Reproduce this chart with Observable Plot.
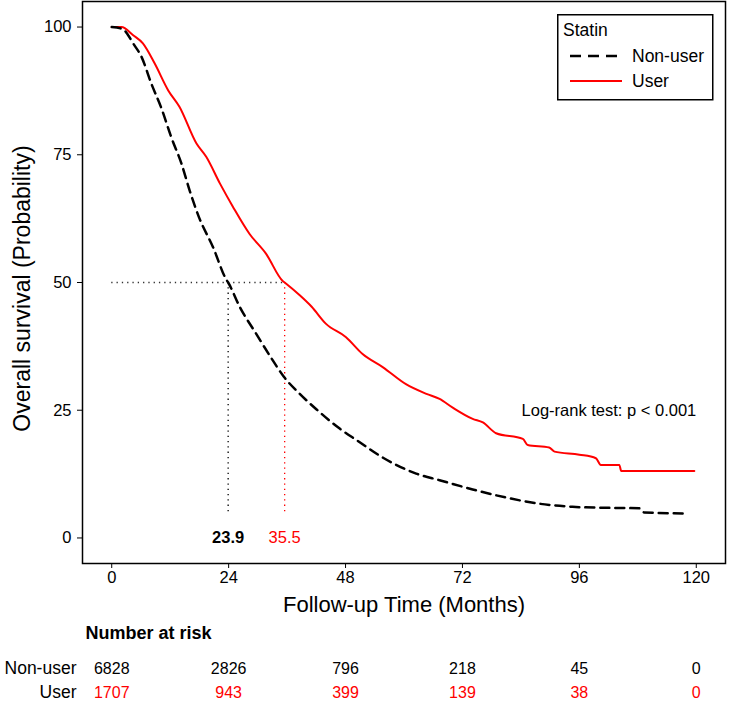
<!DOCTYPE html>
<html>
<head>
<meta charset="utf-8">
<script src="https://cdn.jsdelivr.net/npm/d3@7"></script>
<script src="https://cdn.jsdelivr.net/npm/@observablehq/plot@0.6"></script>
<style>
  html, body { margin: 0; padding: 0; background: #fff; }
  #wrap { position: relative; width: 734px; height: 701px; font-family: "Liberation Sans", Arial, sans-serif; }
  #legend { position: absolute; left: 557px; top: 14px; }
</style>
</head>
<body>
<div id="wrap"></div>
<script>
// ---- Data ----
const groups = ["Non-user", "User"];

const nonUserTime = [0, 2.3, 3.3, 4.4, 6.1, 8.1, 10.2, 12.2, 14.3, 16, 17.9, 20.8, 23.5, 23.9, 26.3, 29.7, 33.1, 35.3, 38.6, 42, 46.8, 50.5, 55.7, 62.5, 67.3, 74.1, 81, 87.8, 94.6, 101.5, 108.3, 109.3, 117.2];
const nonUserSurv = [100, 99.6, 98.5, 96.8, 94.2, 89, 84.1, 78.5, 73.3, 68, 62.8, 56.9, 50.6, 50, 45.2, 39.9, 34.7, 31.6, 28.2, 25.2, 21.4, 19, 15.7, 12.6, 11.3, 9.5, 7.9, 6.7, 6.1, 5.9, 5.8, 5.0, 4.8];

const userTime = [0, 2, 4.4, 6.4, 8.8, 11.6, 13.9, 17.4, 19.4, 22.2, 24.9, 28.3, 31.7, 35.1, 35.5, 38.6, 41, 44, 48.1, 51.5, 55.7, 60.4, 64.6, 67.3, 70, 74.1, 76.2, 78.9, 84.4, 85.4, 89.8, 90.9, 96, 99.4, 100.4, 104.2, 104.6, 119.6];
const userSurv = [100, 100, 98.4, 96.8, 92.9, 87.6, 84.4, 77.2, 74.6, 69.4, 64.8, 59.5, 55.6, 50.3, 50, 47.5, 45.3, 41.9, 39.3, 36, 33.4, 30.1, 28.2, 27.2, 25.5, 23.3, 22.6, 20.5, 19.4, 18.2, 17.7, 16.9, 16.3, 15.6, 14.3, 14.3, 13.1, 13.1];

const medianTimes = [23.9, 35.5];          // Non-user, User
const medianLabels = ["23.9", "35.5"];

const xTicks = [0, 24, 48, 72, 96, 120];
const yTicks = [0, 25, 50, 75, 100];

const riskTimes = [0, 24, 48, 72, 96, 120];
const nonUserRisk = [6828, 2826, 796, 218, 45, 0];
const userRisk = [1707, 943, 399, 139, 38, 0];

const xTitle = "Follow-up Time (Months)";
const yTitle = "Overall survival (Probability)";
const pText = "Log-rank test: p < 0.001";
const legendTitle = "Statin";
const riskTitle = "Number at risk";

// ---- Tables built from arrays ----
const nonUser = nonUserTime.map((t, i) => ({t, s: nonUserSurv[i], group: groups[0]}));
const user = userTime.map((t, i) => ({t, s: userSurv[i], group: groups[1]}));
const medians = medianTimes.map((t, i) => ({t, label: medianLabels[i], group: groups[i]}));
const risk = [
  ...riskTimes.map((t, i) => ({t, n: nonUserRisk[i], group: groups[0]})),
  ...riskTimes.map((t, i) => ({t, n: userRisk[i], group: groups[1]}))
];

const FONT = "'Liberation Sans', Arial, sans-serif";
const colorScale = {domain: groups, range: ["black", "red"]};
const xDomain = [-6, 126];

const main = Plot.plot({
  width: 734,
  height: 620,
  marginLeft: 82,
  marginRight: 9,
  marginTop: 1,
  marginBottom: 57,
  style: {fontFamily: FONT, fontSize: "16.5px", color: "black", background: "white"},
  x: {domain: xDomain, ticks: xTicks, tickSize: 5, tickPadding: 3, label: null},
  y: {domain: [-5, 105], ticks: yTicks, tickSize: 5, tickPadding: 6, label: null},
  color: colorScale,
  marks: [
    Plot.ruleY([50], {x1: 0, x2: medianTimes[1], stroke: "#333", strokeWidth: 1.3, strokeDasharray: "1.3,4"}),
    Plot.ruleX(medians, {x: "t", y1: 50, y2: 5, stroke: "group", strokeWidth: 1.3, strokeDasharray: "1.3,4"}),
    Plot.line(user, {x: "t", y: "s", stroke: "group", strokeWidth: 2, curve: "monotone-x"}),
    Plot.line(nonUser, {x: "t", y: "s", stroke: "group", strokeWidth: 2.5, strokeDasharray: "9,6", curve: "monotone-x"}),
    Plot.text(medians.filter(d => d.group === groups[0]), {x: "t", y: 0, text: "label", fill: "group", fontSize: 16.5, fontWeight: "bold"}),
    Plot.text(medians.filter(d => d.group === groups[1]), {x: "t", y: 0, text: "label", fill: "group", fontSize: 16.5}),
    Plot.text([pText], {x: 120, y: 25, text: d => d, textAnchor: "end", fontSize: 16.5, fill: "black"}),
    Plot.text([xTitle], {frameAnchor: "bottom", dy: 41, text: d => d, fontSize: 22, fill: "black", lineAnchor: "middle", textAnchor: "middle"}),
    Plot.text([yTitle], {frameAnchor: "left", dx: -60, dy: 6, rotate: -90, text: d => d, fontSize: 23, fill: "black", textAnchor: "middle", lineAnchor: "middle"}),
    Plot.frame({stroke: "black", strokeWidth: 1.5})
  ]
});

const table = Plot.plot({
  width: 734,
  height: 81,
  marginLeft: 82,
  marginRight: 9,
  marginTop: 0,
  marginBottom: 0,
  style: {fontFamily: FONT, fontSize: "17.5px", color: "black", background: "white"},
  x: {domain: xDomain, axis: null},
  y: {type: "point", domain: groups, range: [48, 72], padding: 0, tickSize: 0, tickPadding: 6, label: null},
  color: colorScale,
  marks: [
    Plot.text(risk, {x: "t", y: "group", text: d => String(d.n), fill: "group", fontSize: 16}),
    Plot.text([riskTitle], {frameAnchor: "top-left", dx: 3, dy: 13, text: d => d, fontWeight: "bold", fontSize: 18, textAnchor: "start", lineAnchor: "middle", fill: "black"})
  ]
});

const wrap = document.getElementById("wrap");
main.style.display = "block";
table.style.display = "block";
wrap.appendChild(main);
wrap.appendChild(table);

// ---- Legend (line-type key) ----
const leg = d3.select(wrap).append("svg")
  .attr("id", "legend").attr("width", 157).attr("height", 87)
  .style("font-family", FONT);
leg.append("rect").attr("x", 0.75).attr("y", 0.75).attr("width", 155).attr("height", 85)
  .attr("fill", "white").attr("stroke", "black").attr("stroke-width", 1.5);
leg.append("text").attr("x", 6).attr("y", 16).attr("dominant-baseline", "central")
  .attr("font-size", 17.5).text(legendTitle);
const dash = ["11,7", null];
const widths = [2.5, 2];
groups.forEach((g, i) => {
  const y = 42 + i * 25;
  leg.append("line").attr("x1", 13).attr("x2", i === 0 ? 60 : 65).attr("y1", y).attr("y2", y)
    .attr("stroke", colorScale.range[i]).attr("stroke-width", widths[i])
    .attr("stroke-dasharray", dash[i]);
  leg.append("text").attr("x", 75).attr("y", y).attr("dominant-baseline", "central")
    .attr("font-size", 17.5).text(g);
});
</script>
</body>
</html>
